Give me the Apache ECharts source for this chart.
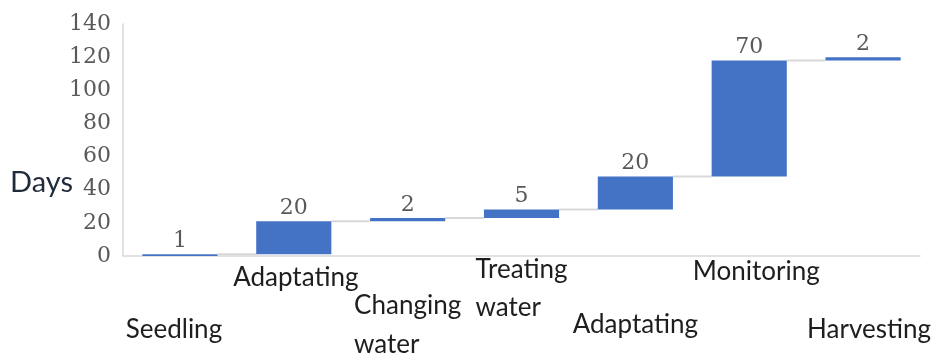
<!DOCTYPE html>
<html>
<head>
<meta charset="utf-8">
<script src="https://cdn.jsdelivr.net/npm/echarts@6/dist/echarts.min.js"></script>
<style>
  html, body { margin: 0; padding: 0; background: #ffffff; }
  #chart { width: 934px; height: 355px; }
</style>
</head>
<body>
<div id="chart"></div>
<script>
// Stages of the growing cycle and how many days each one takes
const stages = ['Seedling', 'Adaptating', 'Changing\nwater', 'Treating\nwater', 'Adaptating', 'Monitoring', 'Harvesting'];
const days = [1, 20, 2, 5, 20, 70, 2];
const dayTicks = [0, 20, 40, 60, 80, 100, 120, 140];

// Staggered placement of the stage names below the axis:
// top padding of the first line, line height of the second line,
// and a small sideways nudge (px, positive = right)
const firstLinePad = [124, 20, 76, 4, 114, 8, 124];
const secondLineHeight = [52, 52, 130, 56, 52, 52, 52];
const sideNudge = [-6, 2, 0, 0, 0, 7, 6];

const BAR_BLUE = '#4472c4';
const CONNECTOR = '#d9d9d9';
const LABEL_FONT = 'Lato';
const LABEL_SIZE = 26;

// Running totals: each step starts where the previous one ended
const steps = [];
let running = 0;
days.forEach(function (d, i) {
  steps.push([i, running, running + d, d]);
  running += d;
});

const chart = echarts.init(document.getElementById('chart'), null, { renderer: 'canvas' });

const rich = {};
firstLinePad.forEach(function (p, i) {
  const n = sideNudge[i];
  rich['s' + i] = {
    fontFamily: LABEL_FONT, fontSize: LABEL_SIZE, color: '#1e1e1e',
    lineHeight: 24, padding: [p, n < 0 ? -2 * n : 0, 0, n > 0 ? 2 * n : 0], align: 'left'
  };
  rich['w' + i] = {
    fontFamily: LABEL_FONT, fontSize: LABEL_SIZE, color: '#1e1e1e',
    lineHeight: secondLineHeight[i], align: 'left'
  };
});

chart.setOption({
  animation: false,
  title: {
    text: 'Days',
    left: 5,
    top: 163,
    textStyle: { fontFamily: 'Lato', fontSize: 29, fontWeight: 'normal', color: '#1f2b3a' }
  },
  grid: { left: 123, right: 14, top: 24, bottom: 99, outerBoundsMode: 'none', containLabel: false },
  xAxis: {
    type: 'category',
    data: stages,
    axisLine: { lineStyle: { color: '#d9d9d9', width: 1.5 } },
    axisTick: { show: false },
    axisLabel: {
      interval: 0,
      margin: 0,
      hideOverlap: false,
      formatter: function (value, idx) {
        const lines = value.split('\n');
        let out = '{s' + idx + '|' + lines[0] + '}';
        for (let k = 1; k < lines.length; k++) out += '\n{w' + idx + '|' + lines[k] + '}';
        return out;
      },
      rich: rich
    }
  },
  yAxis: {
    type: 'value',
    min: dayTicks[0],
    max: dayTicks[dayTicks.length - 1],
    interval: dayTicks[1] - dayTicks[0],
    splitLine: { show: false },
    axisTick: { show: false },
    axisLine: { show: true, lineStyle: { color: '#d9d9d9', width: 1.5 } },
    axisLabel: {
      margin: 12,
      fontFamily: 'DejaVu Serif',
      fontSize: 22,
      color: '#595959',
      lineHeight: 22,
      padding: [9, 0, 0, 0]
    }
  },
  series: [{
    type: 'custom',
    data: steps,
    encode: { x: 0, y: [1, 2] },
    renderItem: function (params, api) {
      const i = api.value(0);
      const base = api.value(1);
      const top = api.value(2);
      const amount = api.value(3);
      const pBase = api.coord([i, base]);
      const pTop = api.coord([i, top]);
      const band = api.size([1, 0])[0];
      const w = band * 0.66;
      const children = [{
        type: 'rect',
        shape: { x: pBase[0] - w / 2, y: pTop[1], width: w, height: pBase[1] - pTop[1] },
        style: { fill: BAR_BLUE }
      }, {
        type: 'text',
        style: {
          x: pBase[0], y: pTop[1] - 2,
          text: String(amount),
          align: 'center', verticalAlign: 'bottom',
          fontFamily: 'DejaVu Serif', fontSize: 22, fill: '#595959'
        }
      }];
      if (params.dataIndex < days.length - 1) {
        children.unshift({
          type: 'line',
          shape: { x1: pBase[0] + w / 2, y1: pTop[1], x2: pBase[0] + band - w / 2, y2: pTop[1] },
          style: { stroke: CONNECTOR, lineWidth: 2 }
        });
      }
      return { type: 'group', children: children };
    }
  }]
});
</script>
</body>
</html>
